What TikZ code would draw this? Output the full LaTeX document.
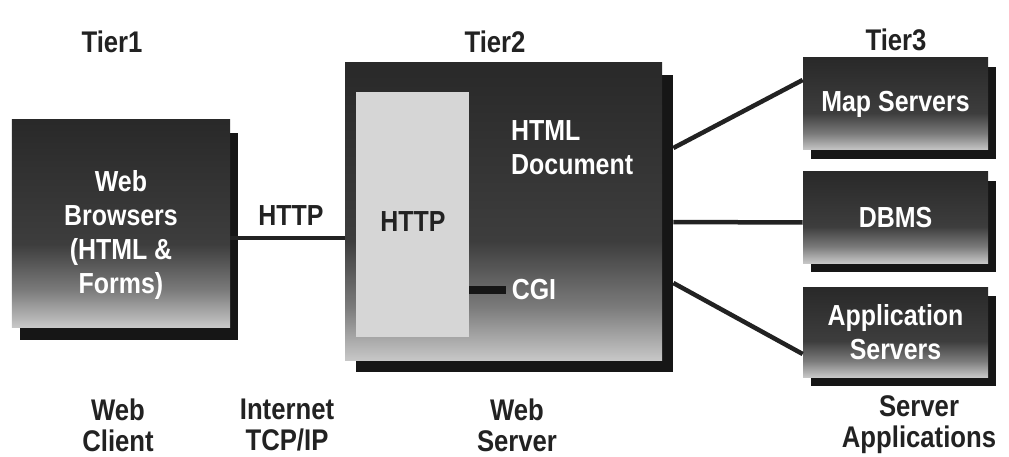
\documentclass[tikz,border=0pt]{standalone}
\usepackage{fontspec}
\setmainfont{Liberation Sans}[FakeStretch=0.86]
\usetikzlibrary{positioning,shadows}
\definecolor{TierInk}{HTML}{222222}
\definecolor{TierShadow}{HTML}{161616}
\definecolor{TierLight}{HTML}{D6D6D6}
\pgfdeclareverticalshading{tiershade}{100bp}{color(0bp)=(black!22); color(25bp)=(black!22); color(34bp)=(black!52); color(45bp)=(black!76); color(75bp)=(black!84); color(100bp)=(black!84)}
\tikzset{raised/.style 2 args={drop shadow={shadow xshift=#1, shadow yshift=#2, fill=TierShadow, opacity=1}}}

\begin{document}
\begin{tikzpicture}[x=0.2mm, y=-0.2mm, every node/.style={font=\bfseries\fontsize{16.5}{19.5}\selectfont}]
\tikzstyle{tier}=[shading=tiershade, text=white, align=center, inner sep=0pt]
\tikzstyle{caption}=[text=TierInk, align=center, font=\bfseries\fontsize{17}{17.5}\selectfont]
\tikzstyle{wire}=[line width=0.9mm, draw=TierInk]
\useasboundingbox (0,0) rectangle (1009,457);
% boxes
\node[tier, raised={1.6mm}{-2.6mm}, minimum width=43.6mm, minimum height=41.4mm] (browser) at (121,223.5) {};
\node[text=white, align=center] (browsertext) at (121,235) {Web\\Browsers\\(HTML \&\\Forms)};
\node[tier, raised={2.2mm}{-2.4mm}, minimum width=63.4mm, minimum height=59.4mm] (server) at (503.5,211.5) {};
\node[fill=TierLight, text=TierInk, minimum width=22.6mm, minimum height=49mm, inner sep=0pt] (httpbox) at (412.5,214.5) {};
\node[text=TierInk] (httpin) at (413,222) {HTTP};
\node[text=white, align=left, anchor=west] (htmldoc) at (505,148) {HTML\\Document};
\node[text=white] (cgi) at (534,290) {CGI};
\node[tier, raised={1.6mm}{-1.8mm}, minimum width=37mm, minimum height=18.4mm] (map) at (895.5,104) {Map Servers};
\node[tier, raised={1.6mm}{-1.8mm}, minimum width=37mm, minimum height=18.2mm] (dbms) at (895.5,217.5) {DBMS};
\node[tier, raised={1.6mm}{-1.8mm}, minimum width=37mm, minimum height=18mm] (app) at (895.5,332) {Application\\Servers};
% connectors
\coordinate (httpy) at (290,238);
\draw[wire] (browser.east |- httpy) -- (server.west |- httpy);
\node[text=TierInk] (httplink) at (291,216) {HTTP};
\draw[line width=1.6mm, draw=TierShadow] (httpbox.east |- cgi) -- (cgi.west);
\draw[wire] ([xshift=2.2mm,yshift=12.7mm]server.east) -- ([yshift=4.8mm]map.west);
\draw[wire] ([xshift=2.2mm,yshift=-2.1mm]server.east) -- ([yshift=-1mm]dbms.west);
\draw[wire] ([xshift=2.2mm,yshift=-14.3mm]server.east) -- ([yshift=-4.4mm]app.west);
% tier titles and captions
\node[caption] (tier1) at (112,42) {Tier1};
\node[caption] (tier2) at (495,42) {Tier2};
\node[caption] (tier3) at (896,40) {Tier3};
\node[caption] (client) at (118,425) {Web\\Client};
\node[caption] (inet) at (287,425) {Internet\\TCP/IP};
\node[caption] (webserv) at (517,425) {Web\\Server};
\node[caption] (apps) at (919,425) {Server\\Applications};
\end{tikzpicture}
\end{document}
